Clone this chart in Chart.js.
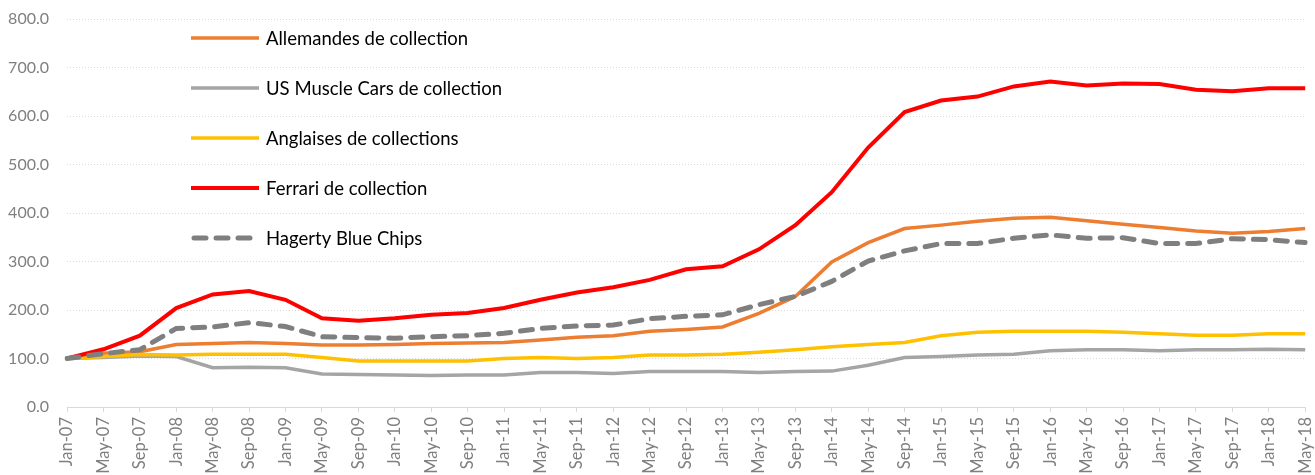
<!DOCTYPE html>
<html>
<head>
<meta charset="utf-8">
<script src="https://cdn.jsdelivr.net/npm/chart.js@4.4.1/dist/chart.umd.min.js"></script>
<style>
  html, body { margin: 0; background: #fff; overflow: hidden; }
  #wrap { width: 1330px; height: 475px; position: relative; }
</style>
</head>
<body>
<div id="wrap"><canvas id="chart"></canvas></div>
<script>
// tick labels, one point every 4 months
const months = [
  "Jan-07", "May-07", "Sep-07", "Jan-08", "May-08", "Sep-08", "Jan-09",
  "May-09", "Sep-09", "Jan-10", "May-10", "Sep-10", "Jan-11", "May-11",
  "Sep-11", "Jan-12", "May-12", "Sep-12", "Jan-13", "May-13", "Sep-13",
  "Jan-14", "May-14", "Sep-14", "Jan-15", "May-15", "Sep-15", "Jan-16",
  "May-16", "Sep-16", "Jan-17", "May-17", "Sep-17", "Jan-18", "May-18",
];

const allemandes = [100, 111, 114, 129, 131, 133, 131, 128, 128, 129, 131, 132, 133, 138, 144, 147, 156, 160, 165, 193, 228, 299, 339, 368, 375, 383, 389, 391, 384, 377, 370, 363, 358, 362, 368];
const usMuscle = [100, 102, 105, 104, 81, 82, 81, 68, 67, 66, 65, 66, 66, 71, 71, 69, 73, 73, 73, 71, 73, 74, 86, 102, 104, 107, 109, 116, 118, 118, 116, 118, 118, 119, 118];
const anglaises = [100, 104, 108, 107, 109, 109, 109, 102, 95, 95, 95, 95, 100, 102, 100, 102, 107, 107, 109, 113, 118, 124, 129, 133, 147, 154, 156, 156, 156, 154, 151, 148, 148, 151, 151];
const ferrari = [100, 119, 147, 204, 232, 239, 221, 183, 178, 183, 190, 194, 204, 221, 236, 247, 262, 284, 290, 325, 375, 443, 535, 608, 632, 640, 661, 671, 663, 667, 666, 654, 651, 657, 657];
const hagerty = [100, 110, 118, 162, 165, 174, 166, 145, 143, 142, 145, 147, 152, 162, 167, 169, 182, 187, 190, 211, 228, 259, 301, 322, 337, 337, 348, 355, 348, 349, 337, 337, 347, 345, 339];

const seriesNames = [
  "Allemandes de collection",
  "US Muscle Cars de collection",
  "Anglaises de collections",
  "Ferrari de collection",
  "Hagerty Blue Chips",
];

// legend drawn inside the plot, top left, like the Excel original
const insideLegend = {
  id: "insideLegend",
  afterDatasetsDraw(chart) {
    const ctx = chart.ctx;
    ctx.save();
    chart.data.datasets.forEach((ds, i) => {
      const y = 38 + i * 50;
      ctx.beginPath();
      ctx.strokeStyle = ds.borderColor;
      ctx.lineWidth = ds.borderWidth;
      ctx.lineCap = ds.borderDash ? "round" : "butt";
      ctx.setLineDash(ds.borderDash || []);
      ctx.moveTo(ds.borderDash ? 194 : 191, y);
      ctx.lineTo(259, y);
      ctx.stroke();
      ctx.setLineDash([]);
      ctx.fillStyle = "#000";
      ctx.font = "18.5px Lato";
      ctx.textBaseline = "middle";
      ctx.fillText(ds.label, 266, y + 1);
    });
    ctx.restore();
  },
};

new Chart(document.getElementById("chart"), {
  type: "line",
  data: {
    labels: months,
    datasets: [
      { label: seriesNames[0], data: allemandes, borderColor: "#ED7D31", borderWidth: 3.5, order: 5 },
      { label: seriesNames[1], data: usMuscle, borderColor: "#A5A5A5", borderWidth: 3.5, order: 4 },
      { label: seriesNames[2], data: anglaises, borderColor: "#FFC000", borderWidth: 3.5, order: 3 },
      { label: seriesNames[3], data: ferrari, borderColor: "#FF0000", borderWidth: 4, order: 2 },
      {
        label: seriesNames[4],
        data: hagerty,
        borderColor: "#7F7F7F",
        borderWidth: 5,
        borderDash: [12, 10],
        borderCapStyle: "round",
        order: 1,
      },
    ],
  },
  options: {
    responsive: true,
    maintainAspectRatio: false,
    animation: false,
    elements: {
      point: { radius: 0 },
      line: { tension: 0, fill: false },
    },
    layout: { padding: { top: 19, left: 0, right: 0, bottom: 0 } },
    plugins: {
      legend: { display: false },
      tooltip: { enabled: false },
    },
    scales: {
      x: {
        offset: false,
        afterFit: (scale) => { scale.height = 68; },
        grid: {
          drawOnChartArea: false,
          drawTicks: true,
          tickLength: 5,
          color: "#D9D9D9",
        },
        border: { display: true, color: "#D9D9D9", width: 1 },
        ticks: {
          autoSkip: false,
          minRotation: 90,
          maxRotation: 90,
          padding: 5,
          color: "#7F7F7F",
          font: { family: "Lato", size: 16.5 },
        },
      },
      y: {
        min: 0,
        max: 800,
        afterFit: (scale) => {
          scale.width = 67;
          scale.paddingTop = 0;
          scale.paddingBottom = 0;
        },
        grid: { drawTicks: false, color: "#D9D9D9" },
        border: { display: false, dash: [1, 2] },
        ticks: {
          stepSize: 100,
          padding: 18,
          color: "#7F7F7F",
          font: { family: "Lato", size: 16 },
          callback: (v) => v.toFixed(1),
        },
      },
    },
  },
  plugins: [insideLegend],
});
</script>
</body>
</html>
